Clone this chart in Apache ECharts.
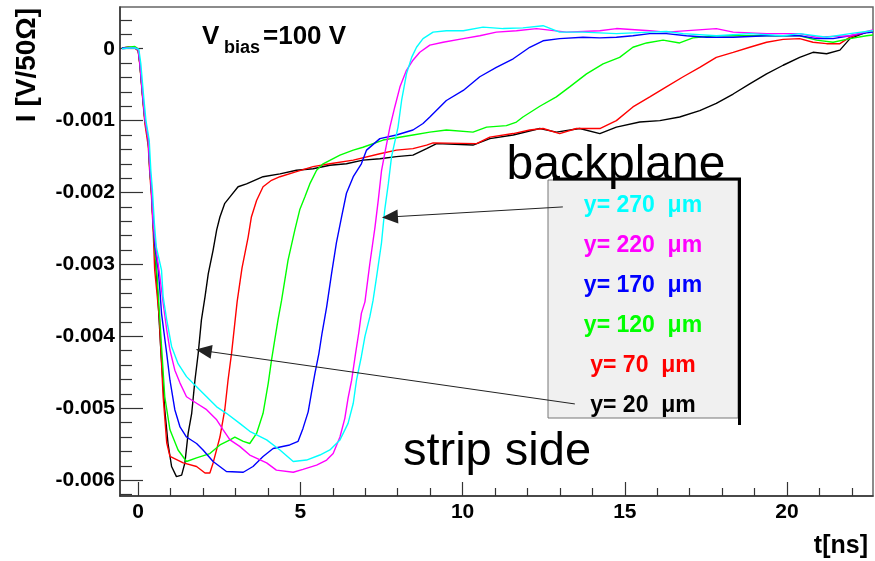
<!DOCTYPE html>
<html>
<head>
<meta charset="utf-8">
<script src="https://cdn.jsdelivr.net/npm/echarts@6/dist/echarts.min.js"></script>
<style>
html,body{margin:0;padding:0;background:#fff;}
#chart{width:875px;height:561px;}
</style>
</head>
<body>
<div id="chart"></div>
<script>
// ---- data (t in ns, I in V/50 Ohm) ----
const y20 = [[-0.5,0.00001],[-0.3,0.00002],[-0.1,0.00001],[0.0,-0.00002],[0.05,-0.0002],[0.14,-0.00067],[0.21,-0.001],[0.31,-0.00127],[0.36,-0.00169],[0.41,-0.00197],[0.46,-0.00243],[0.51,-0.00276],[0.6,-0.0034],[0.7,-0.0042],[0.82,-0.00502],[0.92,-0.00549],[1.03,-0.00581],[1.18,-0.00595],[1.34,-0.00593],[1.44,-0.00576],[1.54,-0.00535],[1.65,-0.00507],[1.75,-0.00461],[1.85,-0.00424],[1.95,-0.00377],[2.06,-0.00345],[2.16,-0.00313],[2.31,-0.0028],[2.42,-0.00252],[2.52,-0.00234],[2.67,-0.00215],[2.83,-0.00206],[3.08,-0.00192],[3.34,-0.00188],[3.85,-0.00178],[4.37,-0.00174],[4.88,-0.00169],[5.39,-0.00167],[5.91,-0.00162],[6.42,-0.0016],[6.93,-0.00155],[7.45,-0.00153],[7.96,-0.0015],[8.47,-0.00148],[8.89,-0.00139],[9.20,-0.00132],[10.32,-0.00134],[10.84,-0.00125],[11.56,-0.0012],[12.38,-0.00111],[12.89,-0.00116],[13.61,-0.00111],[14.23,-0.00118],[14.74,-0.00109],[15.46,-0.00102],[16.08,-0.001],[16.69,-0.00095],[17.31,-0.00086],[17.82,-0.00076],[18.34,-0.00063],[18.85,-0.00049],[19.37,-0.00035],[19.88,-0.00023],[20.39,-0.00012],[20.80,-0.00005],[21.22,-0.00007],[21.63,-0.00002],[21.94,0.00014],[22.45,0.00023],[22.65,0.00025]];
const y70 = [[-0.5,0.00001],[-0.3,0.00002],[-0.1,0.00001],[0.0,-0.00003],[0.05,-0.00022],[0.14,-0.0007],[0.21,-0.00105],[0.31,-0.00135],[0.36,-0.00175],[0.41,-0.00205],[0.46,-0.0025],[0.51,-0.00308],[0.65,-0.00373],[0.77,-0.00484],[0.88,-0.00548],[0.98,-0.00567],[1.39,-0.00576],[1.80,-0.00581],[2.06,-0.0059],[2.21,-0.0059],[2.31,-0.00576],[2.52,-0.0054],[2.67,-0.00502],[2.77,-0.00461],[2.88,-0.00423],[3.05,-0.00352],[3.20,-0.00305],[3.39,-0.00262],[3.49,-0.00234],[3.65,-0.00211],[3.85,-0.00192],[4.11,-0.00183],[4.37,-0.00178],[4.88,-0.00171],[5.39,-0.00164],[5.91,-0.0016],[6.63,-0.00155],[7.45,-0.00146],[7.96,-0.00141],[8.47,-0.00139],[8.89,-0.00134],[9.09,-0.00131],[10.43,-0.00132],[10.84,-0.00123],[11.56,-0.00118],[12.07,-0.00113],[12.48,-0.00111],[12.99,-0.00118],[13.51,-0.00111],[14.23,-0.00111],[14.74,-0.001],[15.25,-0.00081],[15.77,-0.00067],[16.28,-0.00053],[16.80,-0.00039],[17.31,-0.00026],[17.82,-0.00012],[18.34,-0.00005],[18.85,0.00002],[19.37,0.00009],[19.88,0.00013],[20.39,0.00014],[20.80,0.00009],[21.22,0.00007],[21.63,0.00007],[21.94,0.00016],[22.45,0.00023],[22.65,0.00025]];
const y120 = [[-0.5,0.00001],[-0.3,0.00002],[-0.1,0.00003],[0.0,0.0],[0.05,-0.0002],[0.14,-0.00067],[0.21,-0.001],[0.31,-0.00127],[0.36,-0.00169],[0.41,-0.00197],[0.46,-0.00243],[0.51,-0.00276],[0.57,-0.00308],[0.67,-0.00377],[0.72,-0.00414],[0.82,-0.00484],[0.98,-0.0053],[1.23,-0.00558],[1.49,-0.00574],[1.80,-0.00569],[2.21,-0.00563],[2.52,-0.00551],[2.83,-0.00544],[2.98,-0.0054],[3.24,-0.00546],[3.44,-0.00549],[3.65,-0.00535],[3.85,-0.00507],[4.01,-0.00465],[4.11,-0.00433],[4.21,-0.00405],[4.31,-0.00377],[4.42,-0.0035],[4.62,-0.00294],[4.83,-0.00252],[4.98,-0.00224],[5.14,-0.00206],[5.29,-0.00188],[5.50,-0.00169],[5.70,-0.0016],[6.22,-0.00148],[6.63,-0.00141],[6.93,-0.00137],[7.55,-0.00127],[8.47,-0.0012],[8.99,-0.00116],[9.50,-0.00113],[10.32,-0.00116],[10.74,-0.00109],[11.35,-0.00107],[11.66,-0.00102],[11.86,-0.00095],[12.38,-0.0008],[12.89,-0.00067],[13.30,-0.00053],[13.82,-0.00035],[14.33,-0.00021],[14.84,-0.00012],[15.25,0.00002],[15.67,0.00008],[16.18,0.00012],[16.69,0.00008],[17.10,0.00015],[17.82,0.00018],[18.85,0.00018],[20.39,0.00018],[20.91,0.00012],[21.42,0.00009],[21.94,0.00014],[22.45,0.00018],[22.65,0.00019]];
const y170 = [[-0.5,0.00001],[-0.3,0.00001],[-0.1,0.00001],[0.0,-0.00001],[0.05,-0.00018],[0.14,-0.00065],[0.21,-0.00098],[0.31,-0.00125],[0.36,-0.00165],[0.41,-0.00195],[0.46,-0.0024],[0.51,-0.00272],[0.62,-0.00308],[0.67,-0.00336],[0.72,-0.00368],[0.88,-0.00424],[0.98,-0.00461],[1.13,-0.00502],[1.29,-0.00526],[1.49,-0.0054],[1.80,-0.00549],[2.00,-0.00558],[2.31,-0.00574],[2.72,-0.00588],[3.24,-0.00589],[3.54,-0.00581],[3.85,-0.00567],[4.16,-0.00556],[4.67,-0.00551],[4.93,-0.00546],[5.08,-0.00528],[5.24,-0.00505],[5.34,-0.00479],[5.45,-0.00451],[5.57,-0.00424],[5.67,-0.00395],[5.81,-0.00359],[5.96,-0.00313],[6.11,-0.0027],[6.27,-0.00234],[6.42,-0.00201],[6.63,-0.00178],[6.88,-0.0016],[7.04,-0.00141],[7.45,-0.00125],[7.96,-0.0012],[8.47,-0.00113],[8.78,-0.00104],[8.99,-0.00095],[9.50,-0.00072],[10.02,-0.00058],[10.53,-0.00039],[11.04,-0.00026],[11.56,-0.00014],[12.07,0.00002],[12.48,0.00011],[12.99,0.00014],[13.71,0.00016],[14.23,0.00015],[14.74,0.00016],[15.25,0.00018],[15.77,0.00021],[16.28,0.00021],[16.90,0.00018],[17.52,0.00016],[18.34,0.00016],[19.37,0.00018],[20.39,0.00018],[20.91,0.00014],[21.42,0.00014],[21.94,0.00018],[22.45,0.00022],[22.65,0.00023]];
const y220 = [[-0.5,0.0],[-0.3,0.00001],[-0.1,0.00001],[0.0,-0.00001],[0.05,-0.00019],[0.14,-0.00066],[0.21,-0.00099],[0.31,-0.00126],[0.36,-0.00167],[0.41,-0.00196],[0.46,-0.00242],[0.55,-0.00278],[0.67,-0.00317],[0.77,-0.00354],[0.88,-0.00391],[0.98,-0.00419],[1.13,-0.00447],[1.29,-0.00465],[1.49,-0.00484],[1.80,-0.00493],[2.11,-0.00502],[2.42,-0.00516],[2.62,-0.0053],[2.83,-0.00544],[3.13,-0.00553],[3.44,-0.00565],[3.96,-0.00576],[4.26,-0.00586],[4.78,-0.00589],[5.08,-0.00585],[5.50,-0.00579],[5.81,-0.00572],[6.01,-0.00563],[6.22,-0.0054],[6.37,-0.00514],[6.47,-0.00486],[6.58,-0.00461],[6.70,-0.00424],[6.80,-0.00395],[6.88,-0.00368],[6.99,-0.00352],[7.14,-0.00299],[7.30,-0.00248],[7.40,-0.00211],[7.50,-0.0017],[7.60,-0.00146],[7.76,-0.00109],[7.91,-0.00081],[8.07,-0.00053],[8.27,-0.0003],[8.47,-0.00016],[8.68,-0.00005],[8.99,0.00005],[9.40,0.00009],[10.02,0.00014],[10.53,0.00018],[11.04,0.00023],[11.66,0.00025],[12.28,0.00028],[13.20,0.00023],[14.23,0.00025],[14.74,0.00028],[15.77,0.00025],[16.28,0.00023],[17.82,0.00028],[18.34,0.00023],[19.37,0.00021],[20.39,0.00021],[20.91,0.00016],[21.94,0.00018],[22.65,0.00026]];
const y270 = [[-0.5,0.0],[-0.3,0.00001],[-0.1,0.00001],[0.02,-0.00001],[0.08,-0.0002],[0.17,-0.00067],[0.24,-0.001],[0.34,-0.00127],[0.39,-0.00169],[0.44,-0.00197],[0.50,-0.00243],[0.56,-0.00276],[0.72,-0.00308],[0.77,-0.00345],[0.88,-0.00377],[1.03,-0.00414],[1.23,-0.00438],[1.49,-0.00456],[1.80,-0.0047],[2.11,-0.00484],[2.42,-0.00498],[2.72,-0.00507],[3.13,-0.00521],[3.44,-0.00532],[3.96,-0.00544],[4.37,-0.00558],[4.78,-0.00574],[5.19,-0.00572],[5.60,-0.00565],[5.91,-0.00558],[6.22,-0.00544],[6.47,-0.00521],[6.63,-0.00493],[6.73,-0.00461],[6.88,-0.00428],[6.99,-0.004],[7.14,-0.00373],[7.24,-0.0035],[7.35,-0.00317],[7.50,-0.0027],[7.60,-0.00224],[7.71,-0.00188],[7.81,-0.0015],[8.01,-0.00109],[8.12,-0.00072],[8.27,-0.00035],[8.43,-0.00012],[8.58,0.00002],[8.78,0.00014],[9.09,0.00023],[9.50,0.00025],[10.02,0.00025],[10.63,0.0003],[11.25,0.00028],[11.86,0.00029],[12.48,0.00032],[12.99,0.00023],[13.71,0.00023],[14.74,0.00021],[15.77,0.00023],[16.28,0.00024],[16.80,0.00021],[17.82,0.00018],[18.85,0.00021],[19.88,0.00018],[20.39,0.00021],[21.22,0.00016],[21.94,0.00021],[22.45,0.00024],[22.65,0.00025]];

const seriesNames = ['y= 20  \u03bcm','y= 70  \u03bcm','y= 120  \u03bcm','y= 170  \u03bcm','y= 220  \u03bcm','y= 270  \u03bcm'];
const seriesColors = ['#000000','#ff0000','#00ff00','#0000ff','#ff00ff','#00ffff'];
const seriesData = [y20, y70, y120, y170, y220, y270];

const xMajorTicks = [0, 5, 10, 15, 20];
const xMinorTicks = [1,2,3,4,6,7,8,9,11,12,13,14,16,17,18,19,21,22];
const yMajorTicks = [0, -0.001, -0.002, -0.003, -0.004, -0.005, -0.006];
const yMinorTicks = [0.0004,0.0002,-0.0002,-0.0004,-0.0006,-0.0008,-0.0012,-0.0014,-0.0016,-0.0018,-0.0022,-0.0024,-0.0026,-0.0028,-0.0032,-0.0034,-0.0036,-0.0038,-0.0042,-0.0044,-0.0046,-0.0048,-0.0052,-0.0054,-0.0056,-0.0058,-0.0062];
const xRange = [-0.56, 22.65];
const yRange = [-0.00622, 0.00058];

// annotation arrows (data coordinates): from legend entry to curve
const arrowFrom = [[13.09, -0.0022], [13.46, -0.00494]];
const arrowTo   = [[7.76, -0.00234], [2.02, -0.0042]];

const FONT = '"Liberation Sans", Arial, Helvetica, sans-serif';

const chart = echarts.init(document.getElementById('chart'), null, {renderer: 'canvas'});

const series = seriesData.map((d, i) => ({
  type: 'line',
  name: seriesNames[i],
  data: d,
  xAxisIndex: 0, yAxisIndex: 0,
  showSymbol: false,
  symbol: 'none',
  lineStyle: {color: seriesColors[i], width: 1.4},
  itemStyle: {color: seriesColors[i]},
  z: 2 + i,
  silent: true
}));

series.push({
  type: 'line',
  data: [],
  xAxisIndex: 0, yAxisIndex: 0,
  z: 60,
  markLine: {
    silent: true,
    animation: false,
    z: 60,
    symbol: ['none', 'triangle'],
    symbolSize: [14, 16],
    label: {show: false},
    lineStyle: {color: '#222', width: 1, type: 'solid'},
    data: arrowFrom.map((f, i) => [{coord: f}, {coord: arrowTo[i]}])
  }
});

const legendGraphic = seriesNames.slice().reverse().map((name, i) => ({
  type: 'text',
  x: 643, y: 206 + i * 40,
  z: 1,
  style: {
    text: name, fill: seriesColors[seriesColors.length - 1 - i],
    fontSize: 23, fontWeight: 'bold', fontFamily: FONT,
    align: 'center', verticalAlign: 'middle'
  }
}));

const option = {
  animation: false,
  backgroundColor: '#fff',
  textStyle: {fontFamily: FONT},
  grid: {left: 120, right: 2, top: 7, bottom: 65, show: true, borderColor: '#666', borderWidth: 1.5, backgroundColor: 'transparent'},
  xAxis: [{
    type: 'value', min: xRange[0], max: xRange[1], position: 'bottom',
    axisLine: {show: true, onZero: false, lineStyle: {color: '#333', width: 1.5}},
    axisTick: {show: true, inside: true, length: 14, customValues: xMajorTicks, lineStyle: {color: '#333', width: 1.2}},
    axisLabel: {show: true, customValues: xMajorTicks, fontSize: 21, fontWeight: 'bold', color: '#000', margin: 6, fontFamily: FONT},
    splitLine: {show: false}
  }, {
    type: 'value', min: xRange[0], max: xRange[1], position: 'bottom', offset: 0,
    axisLine: {show: false, onZero: false},
    axisTick: {show: true, inside: true, length: 8, customValues: xMinorTicks, lineStyle: {color: '#333', width: 1.2}},
    axisLabel: {show: false},
    splitLine: {show: false}
  }],
  yAxis: [{
    type: 'value', min: yRange[0], max: yRange[1], position: 'left',
    axisLine: {show: true, onZero: false, lineStyle: {color: '#333', width: 1.5}},
    axisTick: {show: true, inside: true, length: 23, customValues: yMajorTicks, lineStyle: {color: '#333', width: 1.2}},
    axisLabel: {show: true, customValues: yMajorTicks, fontSize: 21, fontWeight: 'bold', color: '#000', margin: 5, fontFamily: FONT,
      formatter: v => (Math.abs(v) < 1e-12 ? '0' : v.toFixed(3))},
    splitLine: {show: false}
  }, {
    type: 'value', min: yRange[0], max: yRange[1], position: 'left', offset: 0,
    axisLine: {show: false, onZero: false},
    axisTick: {show: true, inside: true, length: 12, customValues: yMinorTicks, lineStyle: {color: '#333', width: 1.2}},
    axisLabel: {show: false},
    splitLine: {show: false}
  }],
  series: series,
  graphic: [
    {type: 'text', x: 27, y: 65, rotation: Math.PI / 2, z: 50,
      style: {text: 'I [V/50\u03a9]', fontSize: 28, fontWeight: 'bold', fontFamily: FONT, fill: '#000', align: 'center', verticalAlign: 'middle'}},
    {type: 'text', x: 868, y: 546, z: 50,
      style: {text: 't[ns]', fontSize: 25, fontWeight: 'bold', fontFamily: FONT, fill: '#000', align: 'right', verticalAlign: 'middle'}},
    {type: 'text', x: 202, y: 37, z: 50,
      style: {text: 'V', fontSize: 26, fontWeight: 'bold', fontFamily: FONT, fill: '#000', align: 'left', verticalAlign: 'middle'}},
    {type: 'text', x: 224, y: 48, z: 50,
      style: {text: 'bias', fontSize: 18, fontWeight: 'bold', fontFamily: FONT, fill: '#000', align: 'left', verticalAlign: 'middle'}},
    {type: 'text', x: 263, y: 37, z: 50,
      style: {text: '=100 V', fontSize: 26, fontWeight: 'bold', fontFamily: FONT, fill: '#000', align: 'left', verticalAlign: 'middle'}},
    {type: 'rect', z: 0, shape: {x: 548, y: 180, width: 190, height: 238},
      style: {fill: '#f0f0f0', stroke: '#777', lineWidth: 1}},
    {type: 'line', z: 1, shape: {x1: 739.5, y1: 178, x2: 739.5, y2: 425}, style: {stroke: '#000', lineWidth: 3}},
    {type: 'line', z: 1, shape: {x1: 553, y1: 179, x2: 741, y2: 179}, style: {stroke: '#000', lineWidth: 3}},
    {type: 'text', x: 616, y: 166, z: 45,
      style: {text: 'backplane', fontSize: 48, fontFamily: FONT, fill: '#000', align: 'center', verticalAlign: 'middle'}},
    {type: 'text', x: 497, y: 452, z: 45,
      style: {text: 'strip side', fontSize: 47, fontFamily: FONT, fill: '#000', align: 'center', verticalAlign: 'middle'}}
  ].concat(legendGraphic)
};

chart.setOption(option);
</script>
</body>
</html>
